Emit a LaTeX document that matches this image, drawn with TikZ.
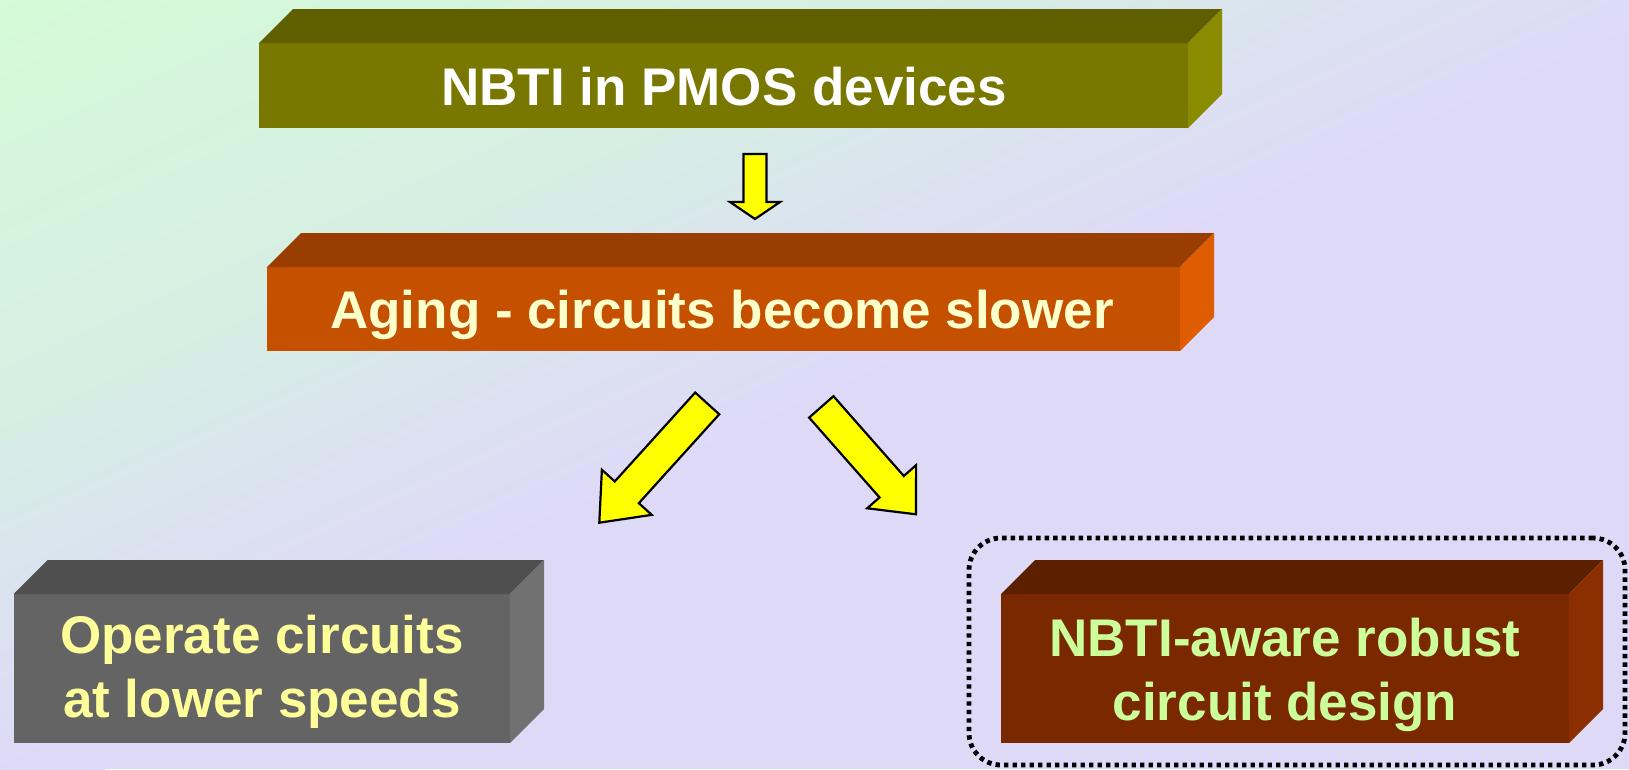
\documentclass[tikz,border=0pt]{standalone}
\usepackage{fontspec}
\setmainfont{Liberation Sans}
\usetikzlibrary{calc}
\definecolor{bggreen}{RGB}{213,251,215}
\definecolor{bgmid}{RGB}{214,238,228}
\definecolor{bgblue}{RGB}{219,226,240}
\definecolor{bglav}{RGB}{223,217,248}
\definecolor{oliveF}{RGB}{120,119,0}
\definecolor{oliveT}{RGB}{95,95,0}
\definecolor{oliveR}{RGB}{139,139,0}
\definecolor{rustF}{RGB}{196,80,0}
\definecolor{rustT}{RGB}{153,61,0}
\definecolor{rustR}{RGB}{224,92,0}
\definecolor{greyF}{RGB}{100,100,100}
\definecolor{greyT}{RGB}{79,79,79}
\definecolor{greyR}{RGB}{113,113,113}
\definecolor{brownF}{RGB}{122,40,0}
\definecolor{brownT}{RGB}{92,31,0}
\definecolor{brownR}{RGB}{140,47,0}
\definecolor{txtcream}{RGB}{255,255,204}
\definecolor{txtyellow}{RGB}{255,255,153}
\definecolor{txtgreen}{RGB}{204,255,153}
\definecolor{arrowyellow}{RGB}{255,255,0}
\tikzset{
  face/.style={inner sep=0pt, outer sep=0pt, draw=none},
  lbl/.style={font=\fontsize{53}{64}\selectfont\bfseries, align=center, inner sep=0pt},
  blockarrow/.style={fill=arrowyellow, draw=black, line width=2.2pt, line join=miter},
  selframe/.style={draw=black, line width=4.8pt, dash pattern=on 4.4pt off 4.1pt, rounded corners=32pt, inner sep=0pt},
}
\newcommand\boxthreed[3]{%
  \fill[#2] (#1.north west) -- ++(34,-34) -- ($(#1.north east)+(34,-34)$) -- (#1.north east) -- cycle;
  \fill[#3] (#1.north east) -- ++(34,-34) -- ($(#1.south east)+(34,-34)$) -- (#1.south east) -- cycle;
}
\newcommand\blockarr[5]{%
  \coordinate (hb) at ($(#2)!#5!(#1)$);
  \draw[blockarrow] ($(#1)!#3!90:(#2)$) -- ($(hb)!#3!90:(#2)$) -- ($(hb)!#4!90:(#2)$) -- (#2)
    -- ($(hb)!#4!-90:(#2)$) -- ($(hb)!#3!-90:(#2)$) -- ($(#1)!#3!-90:(#2)$) -- cycle;
}
\begin{document}
\begin{tikzpicture}[x=1pt,y=-1pt]
\useasboundingbox (0,0) rectangle (1629,769);
% background gradient (top-left green to lavender)
\fill[bglav] (0,0) rectangle (1629,769);
\foreach \i in {95,94,...,1}{
  \pgfmathsetmacro\gt{\i/100}
  \ifnum\i<50
    \pgfmathsetmacro\gp{\i/50*100}
    \colorlet{bgc}{bgmid!\gp!bggreen}
  \else\ifnum\i<72
    \pgfmathsetmacro\gp{(\i-50)/22*100}
    \colorlet{bgc}{bgblue!\gp!bgmid}
  \else
    \pgfmathsetmacro\gp{min(100,(\i-72)/18*100)}
    \colorlet{bgc}{bglav!\gp!bgblue}
  \fi\fi
  \fill[bgc] (0,0) -- (\gt*1900,0) -- (0,\gt*860) -- cycle;
}

% boxes
\node[face, fill=oliveF, minimum width=929pt, minimum height=85pt] (b1) at (723.5,85.5) {};
\boxthreed{b1}{oliveT}{oliveR}
\node[face, fill=rustF, minimum width=913pt, minimum height=84pt] (b2) at (723.5,309) {};
\boxthreed{b2}{rustT}{rustR}
\node[face, fill=greyF, minimum width=496.5pt, minimum height=149pt] (b3) at (261.75,668.5) {};
\boxthreed{b3}{greyT}{greyR}
\node[face, fill=brownF, minimum width=568pt, minimum height=149pt] (b4) at (1285,668.5) {};
\boxthreed{b4}{brownT}{brownR}

% texts
\node[lbl, text=white, anchor=base] (t1) at (724,105) {NBTI in PMOS devices};
\node[lbl, text=txtcream, anchor=base] (t2) at (722,328) {Aging - circuits become slower};
\node[lbl, text=txtyellow] (t3) at (262,671.5) {Operate circuits\\at lower speeds};
\node[lbl, text=txtgreen] (t4) at (1285,675) {NBTI-aware robust\\circuit design};

% selection frame
\node[selframe, minimum width=656pt, minimum height=227pt] (sel) at (1297,651.5) {};

% block arrows
\coordinate (a0s) at (755,154);
\coordinate (a0e) at (755,219);
\blockarr{a0s}{a0e}{11.5pt}{25pt}{17pt}
\coordinate (a1s) at (707.2,403.4);
\coordinate (a1e) at (599.3,522.7);
\blockarr{a1s}{a1e}{16.2pt}{33.6pt}{41pt}
\coordinate (a2s) at (821.3,406.9);
\coordinate (a2e) at (916,514.3);
\blockarr{a2s}{a2e}{16.2pt}{32.6pt}{36.8pt}
\end{tikzpicture}
\end{document}
